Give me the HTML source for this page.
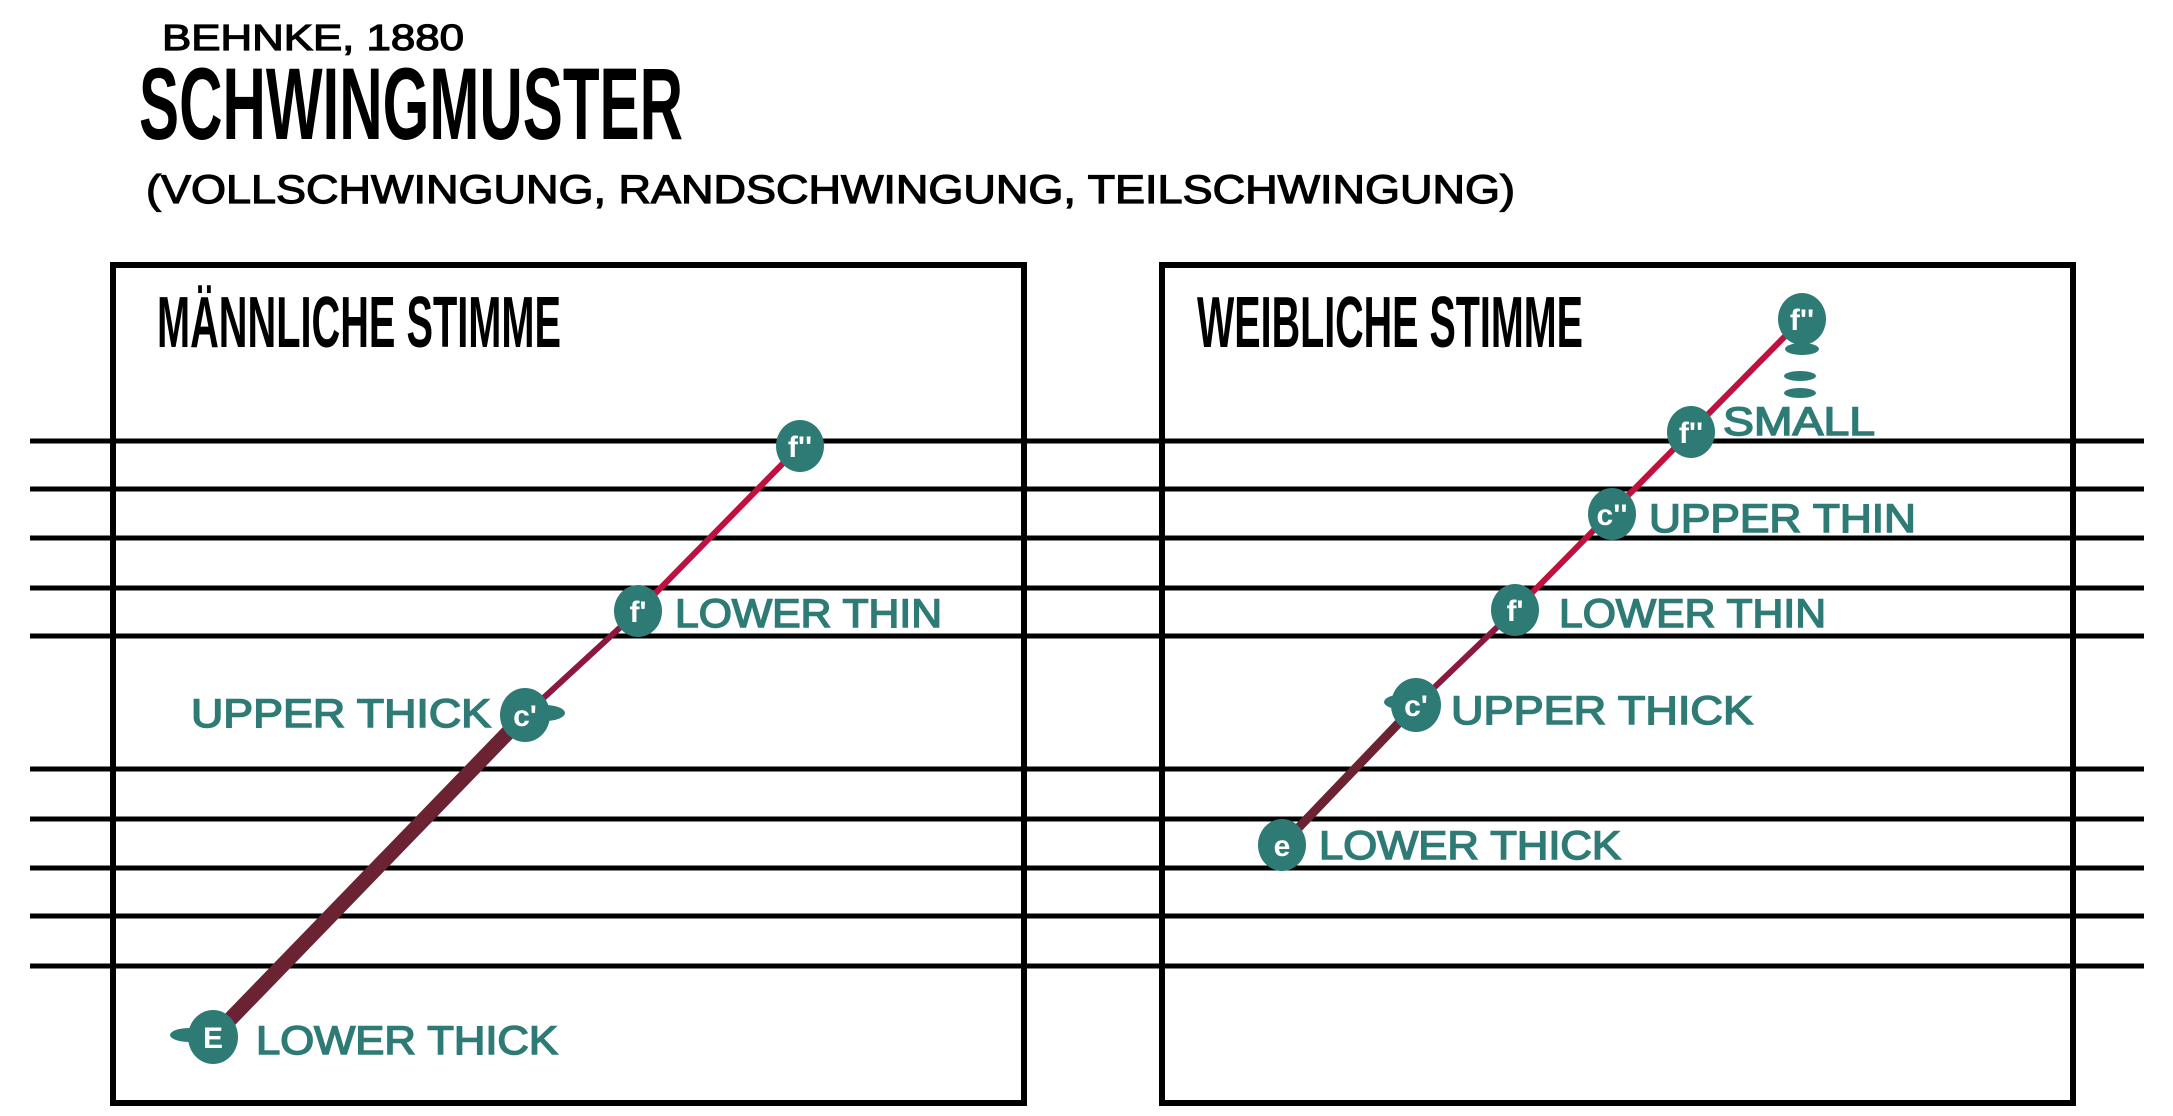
<!DOCTYPE html>
<html><head><meta charset="utf-8"><style>html,body{margin:0;padding:0;background:#fff}svg{display:block}</style></head>
<body>
<svg width="2173" height="1116" viewBox="0 0 2173 1116" xmlns="http://www.w3.org/2000/svg">
<rect width="2173" height="1116" fill="#fff"/>
<g font-family="Liberation Sans Narrow, Liberation Sans, sans-serif" fill="#000">
<text x="162" y="50" font-size="36" stroke="#000" stroke-width="1.2" textLength="302" lengthAdjust="spacingAndGlyphs">BEHNKE, 1880</text>
<text x="139" y="139" font-size="102" font-weight="bold" textLength="544" lengthAdjust="spacingAndGlyphs">SCHWINGMUSTER</text>
<text x="146" y="203" font-size="40" stroke="#000" stroke-width="1.2" textLength="1369" lengthAdjust="spacingAndGlyphs">(VOLLSCHWINGUNG, RANDSCHWINGUNG, TEILSCHWINGUNG)</text>
<text x="157" y="347" font-size="72" font-weight="bold" textLength="404" lengthAdjust="spacingAndGlyphs">MÄNNLICHE STIMME</text>
<text x="1197" y="347" font-size="72" font-weight="bold" textLength="386" lengthAdjust="spacingAndGlyphs">WEIBLICHE STIMME</text>
</g>
<g stroke="#000" stroke-width="5">
<line x1="30" y1="441" x2="2144" y2="441"/><line x1="30" y1="489" x2="2144" y2="489"/>
<line x1="30" y1="538" x2="2144" y2="538"/><line x1="30" y1="588" x2="2144" y2="588"/>
<line x1="30" y1="636" x2="2144" y2="636"/>
<line x1="30" y1="769" x2="2144" y2="769"/><line x1="30" y1="819" x2="2144" y2="819"/>
<line x1="30" y1="868" x2="2144" y2="868"/><line x1="30" y1="916" x2="2144" y2="916"/>
<line x1="30" y1="966" x2="2144" y2="966"/>
</g>
<g fill="none" stroke="#000" stroke-width="6">
<rect x="113" y="265" width="911" height="838"/>
<rect x="1162" y="265" width="911" height="838"/>
</g>
<g stroke-linecap="round">
<line x1="213" y1="1037" x2="525" y2="715" stroke="#6b2232" stroke-width="15"/>
<line x1="525" y1="715" x2="638" y2="611" stroke="#8c1840" stroke-width="6"/>
<line x1="638" y1="611" x2="800" y2="446" stroke="#c0103f" stroke-width="6"/>
<line x1="1282" y1="845" x2="1416" y2="705" stroke="#6b2232" stroke-width="9"/>
<line x1="1416" y1="705" x2="1515" y2="610" stroke="#8c1840" stroke-width="6"/>
<line x1="1515" y1="610" x2="1802" y2="319" stroke="#c0103f" stroke-width="6"/>
</g>
<g fill="#2e7b76">
<ellipse cx="213" cy="1037" rx="25" ry="27"/><ellipse cx="190" cy="1035" rx="20" ry="7"/>
<ellipse cx="525" cy="715" rx="25" ry="27"/><ellipse cx="545" cy="713" rx="20" ry="8"/>
<ellipse cx="638" cy="611" rx="24" ry="26"/>
<ellipse cx="800" cy="446" rx="24" ry="26"/>
<ellipse cx="1282" cy="845" rx="24" ry="26"/>
<ellipse cx="1416" cy="705" rx="25" ry="27"/><ellipse cx="1400" cy="702" rx="16" ry="7"/>
<ellipse cx="1515" cy="610" rx="24" ry="26"/>
<ellipse cx="1612" cy="514" rx="24" ry="26"/>
<ellipse cx="1691" cy="432" rx="24" ry="26"/>
<ellipse cx="1802" cy="319" rx="24" ry="26"/>
<ellipse cx="1802" cy="349" rx="17" ry="6"/><ellipse cx="1800" cy="376" rx="16" ry="5"/><ellipse cx="1800" cy="393" rx="16" ry="5"/>
</g>
<g fill="#fff" font-family="Liberation Sans Narrow, Liberation Sans, sans-serif" font-weight="bold" font-size="30" text-anchor="middle">
<text x="213" y="1048">E</text><text x="525" y="726">c'</text><text x="638" y="622">f'</text><text x="800" y="457">f''</text>
<text x="1282" y="856">e</text><text x="1416" y="716">c'</text><text x="1515" y="621">f'</text><text x="1612" y="525">c''</text>
<text x="1691" y="443">f''</text><text x="1802" y="330">f''</text>
</g>
<g fill="#2e7b76" stroke="#2e7b76" stroke-width="1.5" font-family="Liberation Sans, sans-serif" font-size="40">
<text x="256" y="1054" textLength="302" lengthAdjust="spacingAndGlyphs">LOWER THICK</text>
<text x="191" y="727" textLength="300" lengthAdjust="spacingAndGlyphs">UPPER THICK</text>
<text x="675" y="627" textLength="267" lengthAdjust="spacingAndGlyphs">LOWER THIN</text>
<text x="1319" y="859" textLength="302" lengthAdjust="spacingAndGlyphs">LOWER THICK</text>
<text x="1451" y="724" textLength="302" lengthAdjust="spacingAndGlyphs">UPPER THICK</text>
<text x="1559" y="627" textLength="267" lengthAdjust="spacingAndGlyphs">LOWER THIN</text>
<text x="1649" y="532" textLength="267" lengthAdjust="spacingAndGlyphs">UPPER THIN</text>
<text x="1723" y="435" textLength="152" lengthAdjust="spacingAndGlyphs">SMALL</text>
</g>
</svg>
</body></html>
